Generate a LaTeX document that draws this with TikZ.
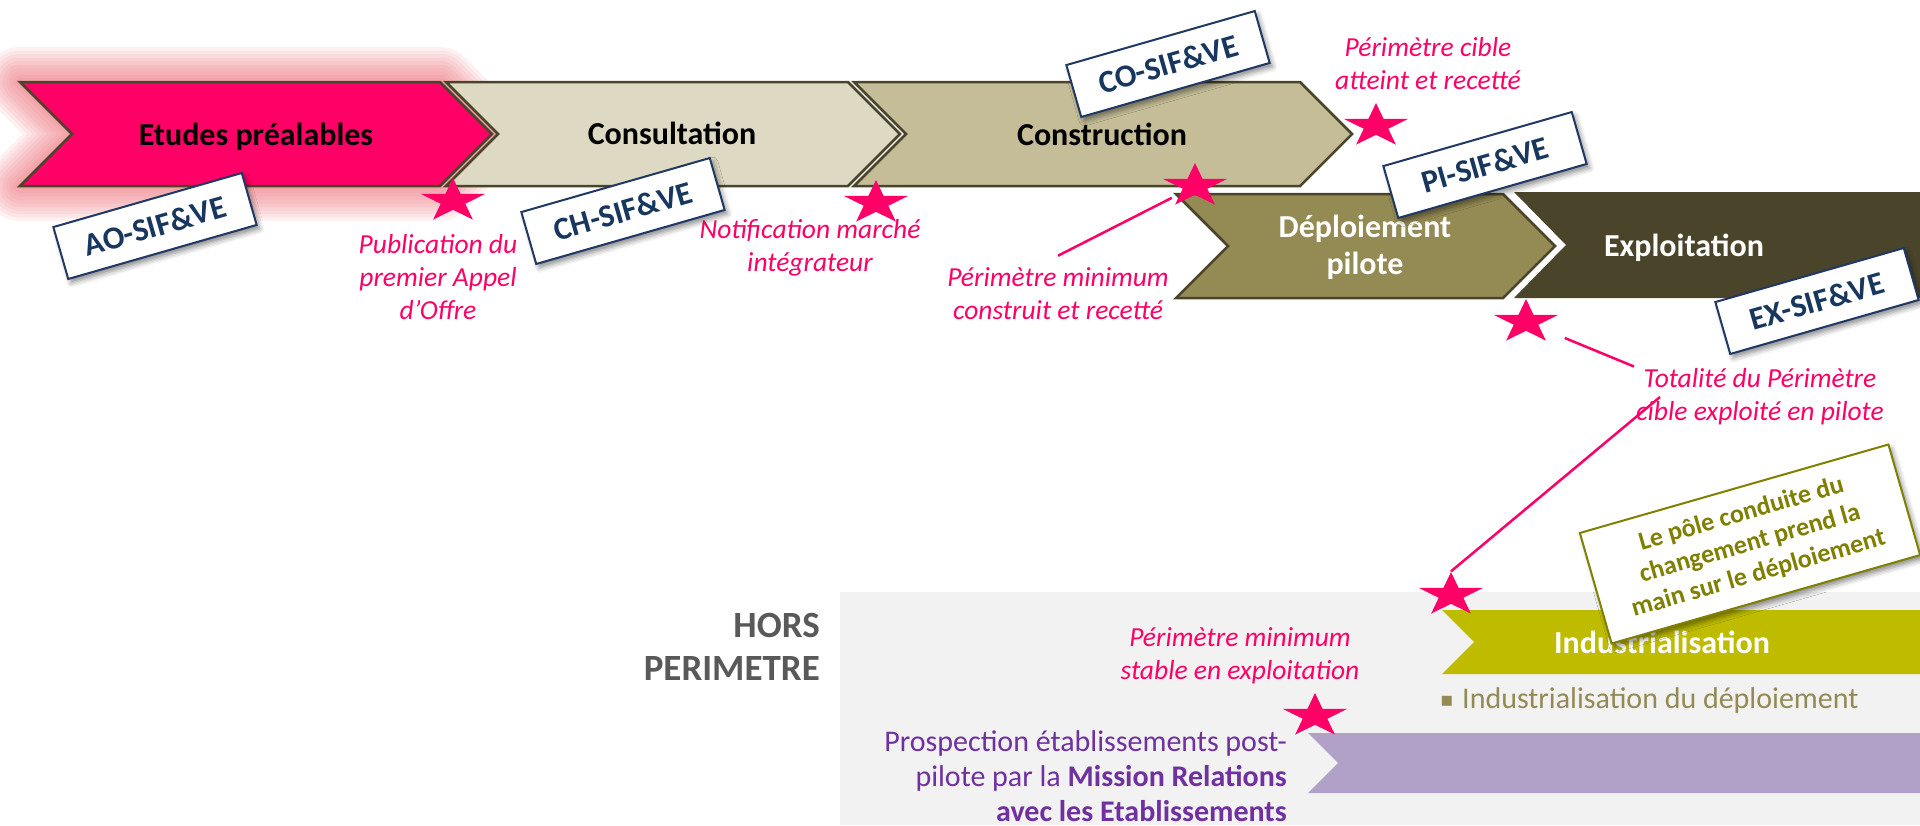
\documentclass[tikz,border=0pt]{standalone}
\usepackage{fontspec}
\setmainfont{Carlito}
\newfontfamily\djv{DejaVu Sans}
\usetikzlibrary{shapes.geometric,shadows.blur}
\definecolor{hotpink}{HTML}{FF0066}
\definecolor{glowc}{RGB}{235,105,115}
\definecolor{chevline}{HTML}{4A452A}
\definecolor{chevA}{HTML}{DDD9C3}
\definecolor{chevB}{HTML}{C4BD97}
\definecolor{chevC}{HTML}{948A54}
\definecolor{chevD}{HTML}{4A452A}
\definecolor{navyline}{HTML}{1F3864}
\definecolor{navytext}{HTML}{17375E}
\definecolor{olivec}{HTML}{7F7F00}
\definecolor{indus}{HTML}{BFBC00}
\definecolor{purplebar}{HTML}{B1A0C7}
\definecolor{purpletxt}{HTML}{7030A0}
\definecolor{bultxt}{HTML}{948A54}
\definecolor{horsgray}{HTML}{595959}
\definecolor{bggray}{HTML}{F2F2F2}
\begin{document}
\begin{tikzpicture}[x=1pt,y=-1pt,
  chev/.style={draw=chevline, line width=2.5pt, line join=miter},
  chevtxt/.style={font=\bfseries\fontsize{32}{37}\selectfont, anchor=base, inner sep=0},
  lbl/.style={draw=navyline, line width=2pt, fill=white, text=navytext,
    font=\bfseries\fontsize{32}{36}\selectfont, minimum width=196pt, minimum height=54pt,
    inner sep=0, rotate=16,
    blur shadow={shadow xshift=3pt, shadow yshift=-4pt, shadow blur radius=5pt, shadow opacity=45}},
  ann/.style={text=hotpink, font=\itshape\fontsize{27.5}{33}\selectfont, align=center, inner sep=2pt},
  pstar/.style={star, star points=5, star point ratio=2.618, fill=hotpink, draw=none,
    minimum size=46pt, inner sep=0, xscale=1.47, transform shape},
  pline/.style={draw=hotpink, line width=2.5pt},
]
\useasboundingbox (0,0) rectangle (1920,825);
\clip (0,0) rectangle (1920,825);

% glow around first phase
\foreach \w in {70,63,56,49,42,35,28,21,14,8} {
  \draw[glowc, line width=\w pt, opacity=0.09, line join=round]
    (20,82) -- (440,82) -- (492,134) -- (440,186) -- (20,186) -- (72,134) -- cycle;
}

% phases
\path[chev, fill=hotpink] (20,82) -- (440,82) -- (492,134) -- (440,186) -- (20,186) -- (72,134) -- cycle;
\path[chev, fill=chevA] (446,82) -- (848,82) -- (900,134) -- (848,186) -- (446,186) -- (498,134) -- cycle;
\path[chev, fill=chevB] (854,82) -- (1300,82) -- (1352,134) -- (1300,186) -- (854,186) -- (906,134) -- cycle;
\path[chev, fill=chevC] (1176,194) -- (1503,194) -- (1555,246) -- (1503,298) -- (1176,298) -- (1228,246) -- cycle;
\path[fill=chevD] (1514,192) -- (1920,192) -- (1920,298) -- (1514,298) -- (1566,245) -- cycle;

\node[chevtxt] (t1) at (256,145) {Etudes préalables};
\node[chevtxt] (t2) at (672,144) {Consultation};
\node[chevtxt] (t3) at (1102,145) {Construction};
\node[font=\bfseries\fontsize{32}{37}\selectfont, text=white, align=center, inner sep=0] (t4) at (1365,247) {Déploiement\\pilote};
\node[chevtxt, text=white] (t5) at (1684,256) {Exploitation};

% bottom area
\fill[bggray] (840,592) rectangle (1920,825);
\path[fill=indus] (1442,610) -- (1920,610) -- (1920,674) -- (1442,674) -- (1474,642) -- cycle;
\node[chevtxt, text=white] (ind) at (1662,653) {Industrialisation};
\node[text=bultxt, font=\fontsize{30}{36}\selectfont, anchor=base west, inner sep=0] (indd) at (1462,708) {Industrialisation du déploiement};
\node[text=bultxt, font=\djv\fontsize{20}{24}\selectfont, inner sep=0] (bul) at (1447,701) {▪};
\path[fill=purplebar] (1308,733) -- (1920,733) -- (1920,793) -- (1308,793) -- (1338,763) -- cycle;
\node[text=purpletxt, font=\fontsize{30}{35}\selectfont, align=right, anchor=east, inner sep=0] (pros) at (1287,776)
  {Prospection établissements post-\\pilote par la \textbf{Mission Relations}\\\textbf{avec les Etablissements}};
\node[text=horsgray, font=\bfseries\fontsize{37}{43}\selectfont, align=right, anchor=east, inner sep=0] (hors) at (820,647) {HORS\\PERIMETRE};

% annotations
\node[ann] (pub) at (438,277) {Publication du\\premier Appel\\d’Offre};
\node[ann] (notif) at (810,248) {Notification marché\\intégrateur};
\node[ann] (pmc) at (1058,294) {Périmètre minimum\\construit et recetté};
\node[ann] (pca) at (1428,64) {Périmètre cible\\atteint et recetté};
\node[ann] (tot) at (1760,397) {Totalité du Périmètre\\cible exploité en pilote};
\node[ann] (pms) at (1240,656) {Périmètre minimum\\stable en exploitation};

% labels
\node[lbl] (ao) at (155,226) {AO-SIF\&VE};
\node[lbl] (ch) at (623,211) {CH-SIF\&VE};
\node[lbl] (co) at (1168,64) {CO-SIF\&VE};
\node[lbl] (pi) at (1485,165) {PI-SIF\&VE};
\node[lbl] (ex) at (1817,301) {EX-SIF\&VE};

% stars
\node[pstar] (s1) at (453,201) {};
\node[pstar] (s2) at (876,203) {};
\node[pstar] (s3) at (1195,186) {};
\node[pstar] (s4) at (1376,126) {};
\node[pstar] (s5) at (1526,322) {};
\node[pstar] (s6) at (1451,595) {};
\node[pstar] (s7) at (1315,716) {};

% connectors
\draw[pline, shorten >=26pt] ([yshift=10pt]pmc.north) -- (s3.center);
\draw[pline, shorten <=42pt] (s5.center) -- (tot.north west);
\draw[pline] ([xshift=26pt]tot.west) -- (s6.north);

% change management note
\node[draw=olivec, line width=2pt, fill=white, text=olivec, font=\bfseries\fontsize{26}{31}\selectfont,
  align=center, minimum width=321pt, minimum height=115pt, inner sep=0, rotate=16,
  blur shadow={shadow xshift=3pt, shadow yshift=-4pt, shadow blur radius=5pt, shadow opacity=45}] (pole) at (1750,544)
  {Le pôle conduite du\\changement prend la\\main sur le déploiement};
\end{tikzpicture}
\end{document}
